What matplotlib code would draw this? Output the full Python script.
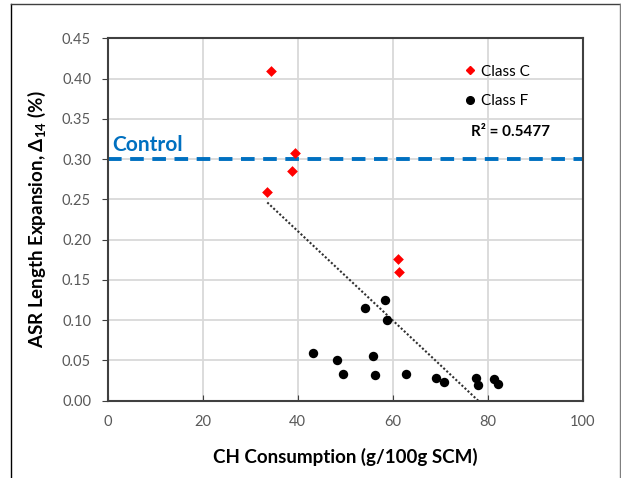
import matplotlib
matplotlib.use('Agg')
import matplotlib.pyplot as plt
import numpy as np
from matplotlib.lines import Line2D

plt.rcParams['font.family'] = ['Lato', 'DejaVu Sans']
plt.rcParams['mathtext.fontset'] = 'custom'
plt.rcParams['mathtext.rm'] = 'Lato'
plt.rcParams['mathtext.bf'] = 'Lato:bold'

# Class C (red diamonds)
class_c_x = [34.3, 39.4, 38.7, 33.6, 61.2, 61.4]
class_c_y = [0.409, 0.307, 0.285, 0.259, 0.176, 0.160]

# Class F (black circles)
class_f_x = [58.4, 54.1, 58.9, 43.3, 48.3, 49.5, 55.9, 56.3, 62.9, 69.1, 70.8, 77.6, 78.0, 81.3, 82.1]
class_f_y = [0.125, 0.115, 0.100, 0.059, 0.050, 0.0335, 0.055, 0.032, 0.0335, 0.028, 0.023, 0.0285, 0.019, 0.027, 0.021]

control_level = 0.30
r2_text = 'R² = 0.5477'
x_ticks = [0, 20, 40, 60, 80, 100]
y_ticks = [0.00, 0.05, 0.10, 0.15, 0.20, 0.25, 0.30, 0.35, 0.40, 0.45]

fig = plt.figure(figsize=(6.21, 4.78), dpi=100)
ax = fig.add_axes([0.1734, 0.1617, 0.7649, 0.7582])

# linear trendline through all points
all_x = np.array(class_c_x + class_f_x)
all_y = np.array(class_c_y + class_f_y)
slope, intercept = np.polyfit(all_x, all_y, 1)
tx = np.linspace(all_x.min(), all_x.max(), 100)
ax.plot(tx, intercept + slope * tx, linestyle=(0, (1, 1)), color='#303030', linewidth=1.5, zorder=2)

ax.axhline(control_level, color='#0070C0', linewidth=2.8, linestyle=(0, (3.5, 2.2)), zorder=2)
ax.text(1, control_level + 0.005, 'Control', color='#0070C0', fontsize=15, fontweight='bold',
        va='bottom', ha='left')

ax.scatter(class_c_x, class_c_y, marker='D', s=30, color='#FF0000', zorder=3, linewidths=0)
ax.scatter(class_f_x, class_f_y, marker='o', s=46, color='black', zorder=3, linewidths=0)

ax.set_xlim(0, 100)
ax.set_ylim(0, 0.45)
ax.set_xticks(x_ticks)
ax.set_yticks(y_ticks)
ax.set_yticklabels(['%.2f' % v for v in y_ticks])
ax.grid(True, color='#D9D9D9', linewidth=1.3)
ax.set_axisbelow(True)
ax.tick_params(axis='x', direction='in', length=4, colors='#404040', labelcolor='#595959',
               labelsize=10.5, pad=10)
ax.tick_params(axis='y', direction='out', length=4, colors='#404040', labelcolor='#595959',
               labelsize=10.5, pad=8)
for s in ax.spines.values():
    s.set_color('#404040')
    s.set_linewidth(1.5)

ax.set_xlabel('CH Consumption (g/100g SCM)', fontsize=13.5, fontweight='bold', labelpad=14)
ax.set_ylabel(r'ASR Length Expansion, $\mathbf{\Delta_{14}}$ (%)', fontsize=13.5,
              fontweight='bold', labelpad=10)

handles = [Line2D([], [], marker='D', color='#FF0000', linestyle='none', markersize=4.5),
           Line2D([], [], marker='o', color='black', linestyle='none', markersize=5.5)]
ax.legend(handles, ['Class C', 'Class F'], loc='upper left', bbox_to_anchor=(0.715, 0.965),
          frameon=False, fontsize=11, handletextpad=0.1, handlelength=1.2, labelspacing=1.0)
ax.text(0.765, 0.741, r2_text, transform=ax.transAxes, fontsize=11, fontweight='bold',
        va='center', ha='left')

# outer chart border
fig.add_artist(Line2D([0.0177, 0.0177], [-0.1, 0.9916], color='black', linewidth=1, transform=fig.transFigure))
fig.add_artist(Line2D([0.0177, 0.998], [0.9916, 0.9916], color='#404040', linewidth=1, transform=fig.transFigure))
fig.add_artist(Line2D([0.998, 0.998], [-0.1, 0.9916], color='#7F7F7F', linewidth=1, transform=fig.transFigure))

fig.savefig('out.png', dpi=100)
